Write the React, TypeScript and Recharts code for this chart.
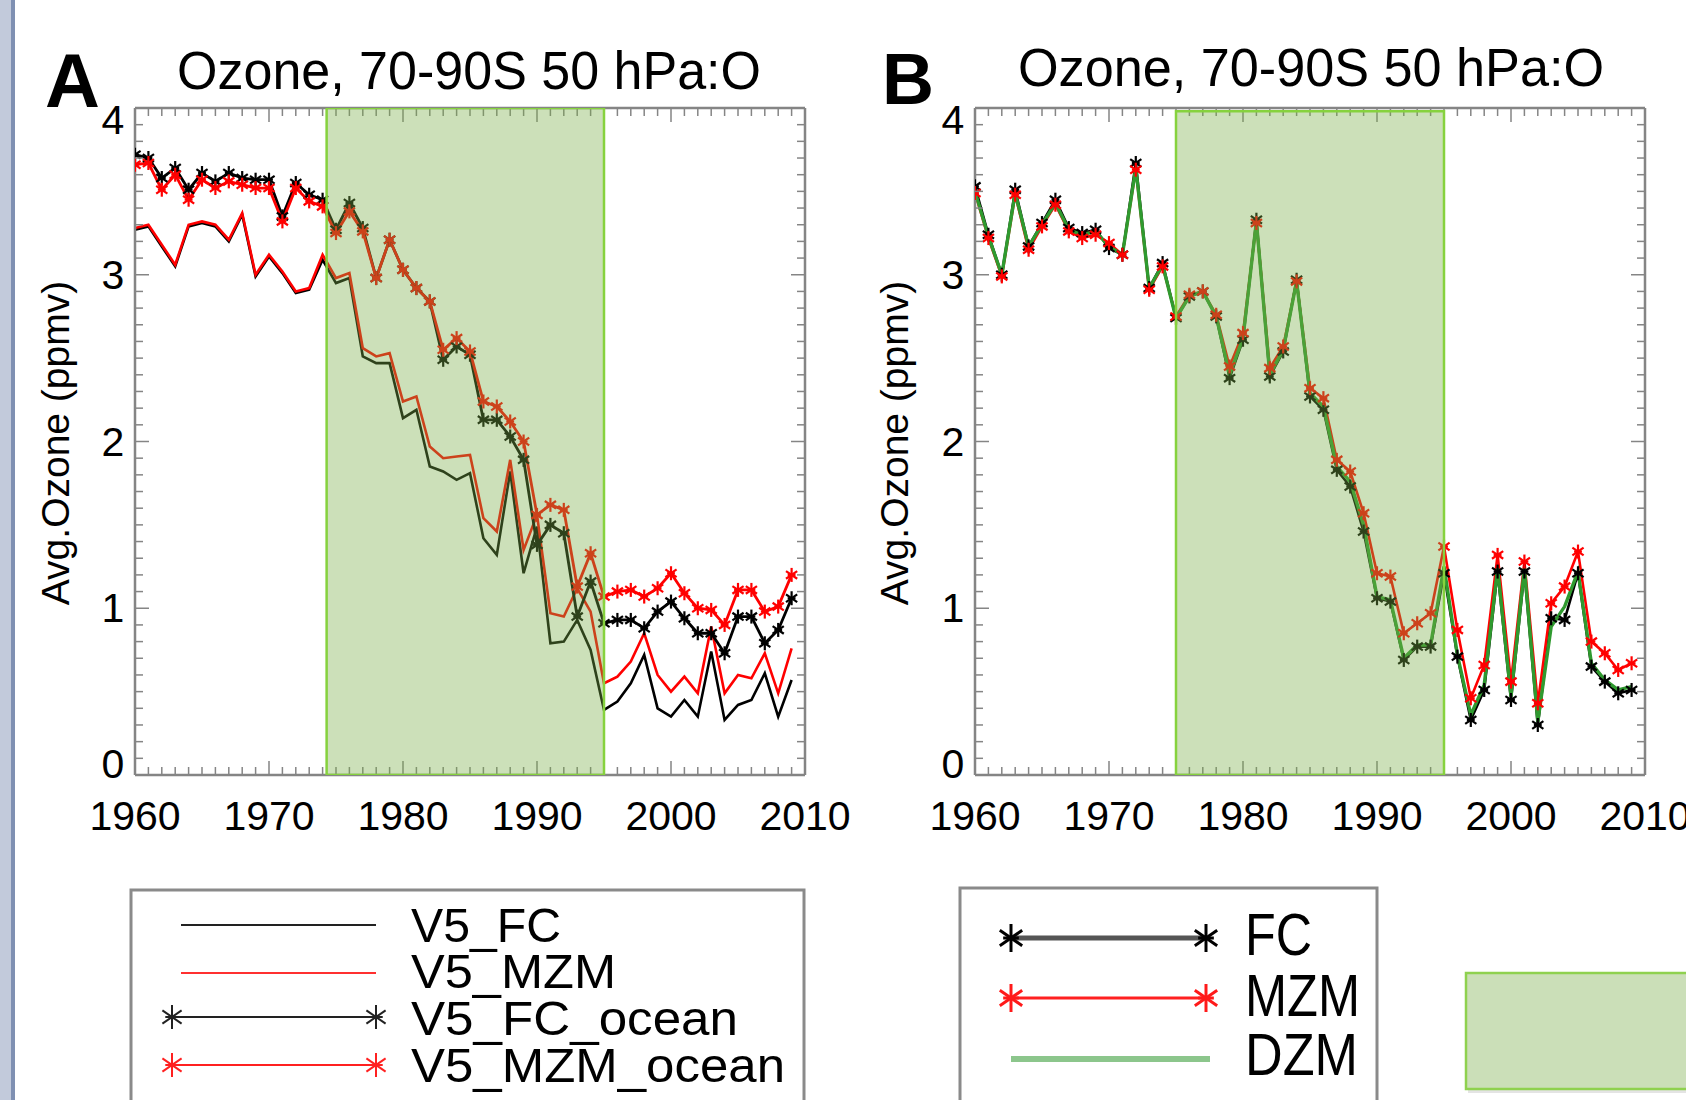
import React from 'react';
import { LineChart, Line, XAxis, YAxis, ReferenceArea } from 'recharts';

const YEARS = [1960, 1961, 1962, 1963, 1964, 1965, 1966, 1967, 1968, 1969, 1970, 1971, 1972, 1973, 1974, 1975, 1976, 1977, 1978, 1979, 1980, 1981, 1982, 1983, 1984, 1985, 1986, 1987, 1988, 1989, 1990, 1991, 1992, 1993, 1994, 1995, 1996, 1997, 1998, 1999, 2000, 2001, 2002, 2003, 2004, 2005, 2006, 2007, 2008, 2009];

// Panel A
const A_V5_FC = [3.27, 3.29, 3.17, 3.05, 3.29, 3.31, 3.29, 3.20, 3.36, 2.99, 3.11, 3.01, 2.89, 2.91, 3.09, 2.95, 2.98, 2.51, 2.47, 2.47, 2.14, 2.19, 1.85, 1.82, 1.77, 1.81, 1.42, 1.32, 1.82, 1.21, 1.49, 0.79, 0.80, 0.93, 0.75, 0.39, 0.44, 0.55, 0.72, 0.40, 0.35, 0.45, 0.35, 0.74, 0.33, 0.42, 0.45, 0.61, 0.35, 0.57];
const A_V5_MZM = [3.28, 3.30, 3.18, 3.06, 3.30, 3.32, 3.30, 3.21, 3.37, 3.00, 3.12, 3.02, 2.90, 2.92, 3.12, 2.98, 3.01, 2.56, 2.51, 2.53, 2.24, 2.27, 1.97, 1.90, 1.91, 1.92, 1.54, 1.46, 1.89, 1.35, 1.56, 0.97, 0.95, 1.12, 0.98, 0.55, 0.59, 0.68, 0.85, 0.60, 0.50, 0.59, 0.49, 0.89, 0.49, 0.60, 0.58, 0.73, 0.49, 0.76];
const A_V5_FC_OCEAN = [3.72, 3.70, 3.58, 3.64, 3.51, 3.61, 3.56, 3.61, 3.58, 3.57, 3.57, 3.35, 3.55, 3.48, 3.45, 3.27, 3.43, 3.28, 2.98, 3.21, 3.03, 2.92, 2.84, 2.49, 2.57, 2.52, 2.13, 2.13, 2.03, 1.89, 1.38, 1.50, 1.45, 0.95, 1.16, 0.91, 0.93, 0.93, 0.88, 0.98, 1.04, 0.94, 0.85, 0.85, 0.73, 0.95, 0.95, 0.79, 0.87, 1.06];
const A_V5_MZM_OCEAN = [3.66, 3.67, 3.51, 3.60, 3.45, 3.57, 3.52, 3.56, 3.54, 3.52, 3.52, 3.32, 3.52, 3.44, 3.41, 3.25, 3.38, 3.26, 2.98, 3.21, 3.03, 2.92, 2.84, 2.55, 2.62, 2.54, 2.24, 2.21, 2.12, 2.00, 1.56, 1.62, 1.59, 1.13, 1.33, 1.07, 1.10, 1.11, 1.07, 1.12, 1.21, 1.09, 1.00, 0.99, 0.90, 1.11, 1.11, 0.98, 1.01, 1.20];

// Panel B
const B_FC = [3.53, 3.24, 3.00, 3.51, 3.17, 3.31, 3.45, 3.28, 3.25, 3.27, 3.16, 3.12, 3.67, 2.92, 3.07, 2.74, 2.87, 2.90, 2.75, 2.38, 2.61, 3.33, 2.39, 2.54, 2.97, 2.27, 2.19, 1.83, 1.73, 1.46, 1.06, 1.04, 0.69, 0.77, 0.77, 1.21, 0.71, 0.33, 0.51, 1.22, 0.45, 1.22, 0.30, 0.94, 0.93, 1.21, 0.65, 0.56, 0.49, 0.51];
const B_MZM = [3.49, 3.22, 2.99, 3.48, 3.15, 3.29, 3.42, 3.26, 3.22, 3.24, 3.19, 3.12, 3.63, 2.91, 3.05, 2.75, 2.88, 2.90, 2.76, 2.45, 2.65, 3.31, 2.44, 2.57, 2.96, 2.32, 2.26, 1.89, 1.82, 1.57, 1.21, 1.19, 0.85, 0.91, 0.97, 1.37, 0.87, 0.46, 0.66, 1.32, 0.56, 1.28, 0.43, 1.03, 1.13, 1.34, 0.80, 0.73, 0.63, 0.67];
const B_DZM = [3.50, 3.23, 3.00, 3.49, 3.17, 3.30, 3.43, 3.27, 3.24, 3.26, 3.17, 3.12, 3.64, 2.92, 3.06, 2.74, 2.87, 2.90, 2.75, 2.40, 2.62, 3.32, 2.40, 2.55, 2.96, 2.29, 2.21, 1.85, 1.76, 1.50, 1.07, 1.05, 0.70, 0.78, 0.78, 1.25, 0.72, 0.36, 0.54, 1.24, 0.47, 1.24, 0.32, 0.89, 1.01, 1.22, 0.67, 0.57, 0.51, 0.53];

const X_TICKS = [1960, 1961, 1962, 1963, 1964, 1965, 1966, 1967, 1968, 1969, 1970, 1971, 1972, 1973, 1974, 1975, 1976, 1977, 1978, 1979, 1980, 1981, 1982, 1983, 1984, 1985, 1986, 1987, 1988, 1989, 1990, 1991, 1992, 1993, 1994, 1995, 1996, 1997, 1998, 1999, 2000, 2001, 2002, 2003, 2004, 2005, 2006, 2007, 2008, 2009, 2010];
const Y_TICKS = [0, 0.1, 0.2, 0.3, 0.4, 0.5, 0.6, 0.7, 0.8, 0.9, 1, 1.1, 1.2, 1.3, 1.4, 1.5, 1.6, 1.7, 1.8, 1.9, 2, 2.1, 2.2, 2.3, 2.4, 2.5, 2.6, 2.7, 2.8, 2.9, 3, 3.1, 3.2, 3.3, 3.4, 3.5, 3.6, 3.7, 3.8, 3.9, 4];

const BAND_A = [1974.3, 1995];
const BAND_B = [1975, 1995];
const TITLE = 'Ozone, 70-90S 50 hPa:O';
const Y_LABEL = 'Avg.Ozone (ppmv)';

const FONT = '"Liberation Sans", Arial, Helvetica, sans-serif';
const AX = '#858585';

const dataA = YEARS.map((year, i) => ({
  year,
  fc: A_V5_FC[i],
  mzm: A_V5_MZM[i],
  fco: A_V5_FC_OCEAN[i],
  mzmo: A_V5_MZM_OCEAN[i],
}));
const dataB = YEARS.map((year, i) => ({ year, fc: B_FC[i], mzm: B_MZM[i], dzm: B_DZM[i] }));

const isMajorX = (v: number) => v % 10 === 0;
const isMajorY = (v: number) => Math.abs(v - Math.round(v)) < 1e-6;

function Star({ cx, cy, size, color, sw }: { cx: number; cy: number; size: number; color: string; sw: number }) {
  const h = size / 2;
  const dx = h * 0.8;
  const dy = h * 0.55;
  return (
    <g stroke={color} strokeWidth={sw} strokeLinecap="butt">
      <line x1={cx} y1={cy - h} x2={cx} y2={cy + h} />
      <line x1={cx - dx} y1={cy - dy} x2={cx + dx} y2={cy + dy} />
      <line x1={cx - dx} y1={cy + dy} x2={cx + dx} y2={cy - dy} />
      <line x1={cx - dx * 0.7} y1={cy} x2={cx + dx * 0.7} y2={cy} />
    </g>
  );
}

const starDot = (color: string) => (props: any) => {
  const { cx, cy, index } = props;
  if (cx == null || cy == null) return <g key={`n${index}`} />;
  return (
    <g key={`s${index}`}>
      <Star cx={cx} cy={cy} size={14} color={color} sw={2.2} />
    </g>
  );
};

const BottomTick = (props: any) => {
  const { x, y, payload } = props;
  const v = payload.value;
  const major = isMajorX(v);
  return (
    <g>
      <line x1={x} y1={y} x2={x} y2={y - (major ? 14 : 8)} stroke={AX} strokeWidth={1.5} />
      {major && (
        <text x={x} y={y + 55} textAnchor="middle" fontSize={41} fontFamily={FONT} fill="#000">
          {v}
        </text>
      )}
    </g>
  );
};

const TopTick = (props: any) => {
  const { x, y, payload } = props;
  const major = isMajorX(payload.value);
  return <line x1={x} y1={y} x2={x} y2={y + (major ? 14 : 8)} stroke={AX} strokeWidth={1.5} />;
};

const LeftTick = (props: any) => {
  const { x, y, payload } = props;
  const v = payload.value;
  const major = isMajorY(v);
  let off = 0;
  if (major && Math.round(v) === 4) off = 12;
  if (major && Math.round(v) === 0) off = -11;
  return (
    <g>
      <line x1={x} y1={y} x2={x + (major ? 14 : 8)} y2={y} stroke={AX} strokeWidth={1.5} />
      {major && (
        <text x={x - 22} y={y + 14 + off} textAnchor="middle" fontSize={41} fontFamily={FONT} fill="#000">
          {Math.round(v)}
        </text>
      )}
    </g>
  );
};

const RightTick = (props: any) => {
  const { x, y, payload } = props;
  const major = isMajorY(payload.value);
  return <line x1={x} y1={y} x2={x - (major ? 14 : 8)} y2={y} stroke={AX} strokeWidth={1.5} />;
};

function axesFor() {
  return [
    <XAxis
      key="xb"
      type="number"
      dataKey="year"
      domain={[1960, 2010]}
      ticks={X_TICKS}
      interval={0}
      height={1}
      tickSize={0}
      tickMargin={0}
      tickLine={false}
      tick={BottomTick}
      axisLine={{ stroke: AX, strokeWidth: 2.5 }}
      allowDataOverflow
    />,
    <XAxis
      key="xt"
      xAxisId="t"
      orientation="top"
      type="number"
      dataKey="year"
      domain={[1960, 2010]}
      ticks={X_TICKS}
      interval={0}
      height={1}
      tickSize={0}
      tickMargin={0}
      tickLine={false}
      tick={TopTick}
      axisLine={{ stroke: AX, strokeWidth: 2.5 }}
      allowDataOverflow
    />,
    <YAxis
      key="yl"
      type="number"
      domain={[0, 4]}
      ticks={Y_TICKS}
      interval={0}
      width={1}
      tickSize={0}
      tickMargin={0}
      tickLine={false}
      tick={LeftTick}
      axisLine={{ stroke: AX, strokeWidth: 2.5 }}
      allowDataOverflow
    />,
    <YAxis
      key="yr"
      yAxisId="r"
      orientation="right"
      type="number"
      domain={[0, 4]}
      ticks={Y_TICKS}
      interval={0}
      width={1}
      tickSize={0}
      tickMargin={0}
      tickLine={false}
      tick={RightTick}
      axisLine={{ stroke: AX, strokeWidth: 2.5 }}
      allowDataOverflow
    />,
  ];
}

const BAND_FILL = '#79ae47';
const BAND_STROKE = '#86d23e';

function ChartA() {
  return (
    <LineChart width={860} height={880} data={dataA} margin={{ top: 107, right: 54, bottom: 104, left: 134 }}>
      {axesFor()}
      <Line dataKey="fc" stroke="#000" strokeWidth={2.6} dot={false} activeDot={false} isAnimationActive={false} />
      <Line dataKey="mzm" stroke="#ff0000" strokeWidth={2.6} dot={false} activeDot={false} isAnimationActive={false} />
      <Line dataKey="fco" stroke="#000" strokeWidth={2.8} dot={starDot('#000')} activeDot={false} isAnimationActive={false} />
      <Line dataKey="mzmo" stroke="#ff0000" strokeWidth={2.8} dot={starDot('#ff0000')} activeDot={false} isAnimationActive={false} />
      <ReferenceArea
        x1={BAND_A[0]}
        x2={BAND_A[1]}
        y1={0}
        y2={4}
        fill={BAND_FILL}
        fillOpacity={0.38}
        stroke={BAND_STROKE}
        strokeWidth={2.5}
        strokeOpacity={1}
        ifOverflow="hidden"
        {...({ zIndex: 2000 } as any)}
      />
    </LineChart>
  );
}

function ChartB() {
  return (
    <LineChart width={846} height={880} data={dataB} margin={{ top: 107, right: 40, bottom: 104, left: 134 }}>
      {axesFor()}
      <Line dataKey="fc" stroke="#000" strokeWidth={2.6} dot={starDot('#000')} activeDot={false} isAnimationActive={false} />
      <Line dataKey="mzm" stroke="#ff0000" strokeWidth={2.6} dot={starDot('#ff0000')} activeDot={false} isAnimationActive={false} />
      <Line dataKey="dzm" stroke="#2f9a2f" strokeWidth={3.4} dot={false} activeDot={false} isAnimationActive={false} />
      <ReferenceArea
        x1={BAND_B[0]}
        x2={BAND_B[1]}
        y1={0}
        y2={3.98}
        fill={BAND_FILL}
        fillOpacity={0.38}
        stroke={BAND_STROKE}
        strokeWidth={2.5}
        strokeOpacity={1}
        ifOverflow="hidden"
        {...({ zIndex: 2000 } as any)}
      />
    </LineChart>
  );
}

function Decorations() {
  return (
    <svg width={1686} height={1100} style={{ position: 'absolute', left: 0, top: 0 }}>
      <rect x={0} y={0} width={1686} height={1100} fill="#ffffff" />
      {/* left slide strip */}
      <rect x={0} y={0} width={11} height={1100} fill="#c2cadb" />
      <rect x={11} y={0} width={4} height={1100} fill="#7f90b2" />

      {/* panel letters and titles */}
      <text x={45} y={107} fontSize={76} fontWeight="bold" fontFamily={FONT} fill="#000">A</text>
      <text x={469} y={89} textAnchor="middle" fontSize={54} textLength={584} lengthAdjust="spacingAndGlyphs" fontFamily={FONT} fill="#000">
        {TITLE}
      </text>
      <text x={882} y={104} fontSize={72} fontWeight="bold" fontFamily={FONT} fill="#000">B</text>
      <text x={1311} y={86} textAnchor="middle" fontSize={54} textLength={586} lengthAdjust="spacingAndGlyphs" fontFamily={FONT} fill="#000">
        {TITLE}
      </text>

      {/* y labels */}
      <text transform="translate(69,443) rotate(-90)" textAnchor="middle" fontSize={39} fontFamily={FONT} fill="#000">
        {Y_LABEL}
      </text>
      <text transform="translate(908,443) rotate(-90)" textAnchor="middle" fontSize={39} fontFamily={FONT} fill="#000">
        {Y_LABEL}
      </text>

      {/* Legend A */}
      <rect x={131} y={890} width={673} height={300} fill="#fff" stroke="#8a8a8a" strokeWidth={3} />
      <line x1={181} y1={925} x2={376} y2={925} stroke="#222" strokeWidth={2} />
      <text x={411} y={942} fontSize={49} textLength={150} lengthAdjust="spacingAndGlyphs" fontFamily={FONT} fill="#000">V5_FC</text>
      <line x1={181} y1={973} x2={376} y2={973} stroke="#ff3030" strokeWidth={2} />
      <text x={411} y={988} fontSize={49} textLength={205} lengthAdjust="spacingAndGlyphs" fontFamily={FONT} fill="#000">V5_MZM</text>
      <line x1={172} y1={1017} x2={376} y2={1017} stroke="#222" strokeWidth={2} />
      <Star cx={172} cy={1017} size={24} color="#222" sw={2} />
      <Star cx={376} cy={1017} size={24} color="#222" sw={2} />
      <text x={411} y={1035} fontSize={49} textLength={327} lengthAdjust="spacingAndGlyphs" fontFamily={FONT} fill="#000">V5_FC_ocean</text>
      <line x1={172} y1={1065} x2={376} y2={1065} stroke="#ff2020" strokeWidth={2} />
      <Star cx={172} cy={1065} size={24} color="#ff2020" sw={2} />
      <Star cx={376} cy={1065} size={24} color="#ff2020" sw={2} />
      <text x={411} y={1082} fontSize={49} textLength={374} lengthAdjust="spacingAndGlyphs" fontFamily={FONT} fill="#000">V5_MZM_ocean</text>

      {/* Legend B */}
      <rect x={960} y={888} width={417} height={300} fill="#fff" stroke="#8a8a8a" strokeWidth={3} />
      <line x1={1011} y1={938} x2={1206} y2={938} stroke="#555" strokeWidth={5} />
      <Star cx={1011} cy={938} size={28} color="#000" sw={3} />
      <Star cx={1206} cy={938} size={28} color="#000" sw={3} />
      <text x={1245} y={955} fontSize={60} textLength={67} lengthAdjust="spacingAndGlyphs" fontFamily={FONT} fill="#000">FC</text>
      <line x1={1011} y1={998} x2={1206} y2={998} stroke="#ff2020" strokeWidth={3} />
      <Star cx={1011} cy={998} size={28} color="#ff1a1a" sw={3} />
      <Star cx={1206} cy={998} size={28} color="#ff1a1a" sw={3} />
      <text x={1245} y={1016} fontSize={60} textLength={115} lengthAdjust="spacingAndGlyphs" fontFamily={FONT} fill="#000">MZM</text>
      <line x1={1011} y1={1059} x2={1210} y2={1059} stroke="#8cc68c" strokeWidth={6} />
      <text x={1245} y={1075} fontSize={60} textLength={113} lengthAdjust="spacingAndGlyphs" fontFamily={FONT} fill="#000">DZM</text>

      {/* green period box */}
      <rect x={1468} y={977} width={240} height={116} fill="#bcbcbc" opacity={0.4} />
      <rect x={1466} y={973} width={240} height={116} fill="#cbdfb8" stroke="#8fd14f" strokeWidth={2.5} />
    </svg>
  );
}

export default function App() {
  return (
    <div style={{ position: 'absolute', left: 0, top: 0, width: 1686, height: 1100, overflow: 'hidden', background: '#fff' }}>
      <Decorations />
      <div style={{ position: 'absolute', left: 0, top: 0 }}>
        <ChartA />
      </div>
      <div style={{ position: 'absolute', left: 840, top: 0 }}>
        <ChartB />
      </div>
    </div>
  );
}
